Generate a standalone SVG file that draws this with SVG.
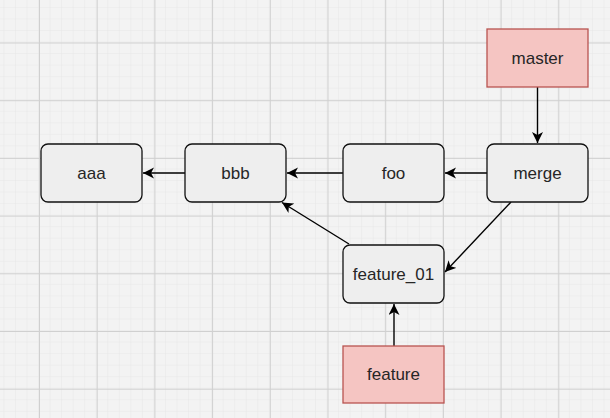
<svg xmlns="http://www.w3.org/2000/svg" width="610" height="418" viewBox="0 0 610 418">
<defs>
<pattern id="minor" x="39" y="42.5" width="11.54" height="11.54" patternUnits="userSpaceOnUse">
<path d="M11.54 0V11.54M0 11.54H11.54" fill="none" stroke="#e7e7e7" stroke-width="1"/>
</pattern>
<pattern id="major" x="39" y="42.5" width="57.7" height="57.7" patternUnits="userSpaceOnUse">
<path d="M0.5 0V57.7M0 0.5H57.7" fill="none" stroke="#d0d0d0" stroke-width="1"/>
</pattern>
<marker id="arr" markerUnits="userSpaceOnUse" markerWidth="14" markerHeight="12" refX="11" refY="5.5" orient="auto">
<path d="M0,0 L11,5.5 L0,11 L3,5.5 Z" fill="#000"/>
</marker>
</defs>
<style>
.node rect{fill:#eeeeee;stroke:#111;stroke-width:1.3}
.tag rect{fill:#f5c5c2;stroke:#b85450;stroke-width:1.3}
text{font-family:"Liberation Sans",Arial,sans-serif;font-size:17px;fill:#262626;text-anchor:middle;dominant-baseline:central}
.edges line{stroke:#000;stroke-width:1.4;marker-end:url(#arr)}
</style>
<rect width="610" height="418" fill="#f3f3f3"/>
<rect width="610" height="418" fill="url(#minor)"/>
<rect width="610" height="418" fill="url(#major)"/>
<g class="edges" id="connectors">
<line x1="537.5" y1="87" x2="537.5" y2="143"/>
<line x1="487" y1="173" x2="445" y2="173"/>
<line x1="343" y1="173" x2="287" y2="173"/>
<line x1="185" y1="173" x2="143" y2="173"/>
<line x1="511" y1="202" x2="445" y2="272"/>
<line x1="349" y1="244" x2="282" y2="202.5"/>
<line x1="394" y1="346" x2="394" y2="304"/>
</g>
<g class="node" id="aaa"><rect x="41" y="144" width="101" height="58" rx="7"/><text x="91.5" y="173">aaa</text></g>
<g class="node" id="bbb"><rect x="185" y="144" width="101" height="58" rx="7"/><text x="235.5" y="173">bbb</text></g>
<g class="node" id="foo"><rect x="343" y="144" width="101" height="58" rx="7"/><text x="393.5" y="173">foo</text></g>
<g class="node" id="merge"><rect x="487" y="144" width="101" height="58" rx="7"/><text x="537.5" y="173">merge</text></g>
<g class="node" id="feature_01"><rect x="343" y="245" width="101" height="58" rx="7"/><text x="393.5" y="274">feature_01</text></g>
<g class="tag" id="master"><rect x="487" y="29" width="101" height="58"/><text x="537.5" y="58">master</text></g>
<g class="tag" id="feature"><rect x="343" y="346" width="101" height="57"/><text x="393.5" y="374.5">feature</text></g>
</svg>
